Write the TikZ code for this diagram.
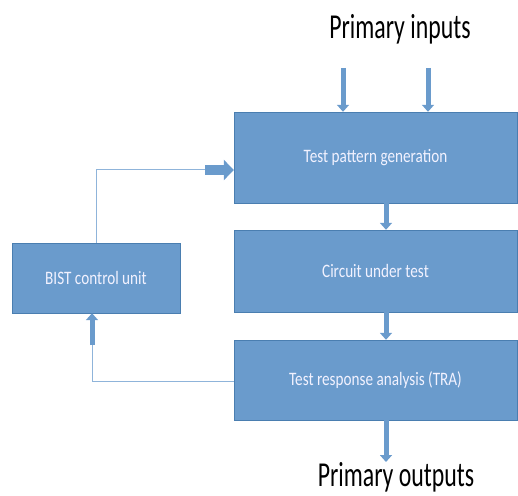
\documentclass[tikz,border=0pt]{standalone}
\usepackage{fontspec}
\setmainfont{Carlito}
\usetikzlibrary{arrows.meta}
\definecolor{boxblue}{HTML}{6A9BCC}
\definecolor{edgeblue}{HTML}{4A7EB0}
\definecolor{lineblue}{HTML}{8FB4DA}
\newcommand{\narrow}[2]{\scalebox{#1}[1]{#2}}
\tikzstyle{block} = [rectangle, minimum width=283pt, text centered, draw=edgeblue, fill=boxblue, text=white!95!blue, font=\fontsize{19}{22}\selectfont, inner sep=0pt]
\tikzstyle{label} = [font=\fontsize{35}{40}\selectfont, text=black]
\tikzstyle{fatarrow} = [draw=boxblue, line width=5pt, -{Triangle[width=12pt,length=7pt]}]
\tikzstyle{bigarrow} = [draw=boxblue, line width=10pt, -{Triangle[width=20pt,length=10pt]}]
\tikzstyle{thinline} = [draw=lineblue, line width=1pt]

\begin{document}
\begin{tikzpicture}[x=1pt, y=1pt]
    \useasboundingbox (0,0) rectangle (518,495);
    \node (tpg) [block, minimum height=91pt] at (375.5,337.5) {\narrow{0.8}{Test pattern generation}};
    \node (cut) [block, minimum height=82pt] at (375.5,224) {\narrow{0.8}{Circuit under test}};
    \node (tra) [block, minimum height=80pt] at (375.5,115) {\narrow{0.8}{Test response analysis (TRA)}};
    \node (bist) [block, minimum width=168pt, minimum height=70pt] at (96,217) {\narrow{0.8}{BIST control unit}};
    \node (inputs) [label] at (400,466) {\narrow{0.68}{Primary inputs}};
    \node (outputs) [label] at (396,18) {\narrow{0.68}{Primary outputs}};
    % inputs and outputs
    \coordinate (in1) at (343,427);
    \coordinate (in2) at (428,427);
    \coordinate (out) at (386,33);
    \draw [fatarrow] (in1) -- (in1 |- tpg.north);
    \draw [fatarrow] (in2) -- (in2 |- tpg.north);
    \draw [fatarrow] (out |- tpg.south) -- (out |- cut.north);
    \draw [fatarrow] (out |- cut.south) -- (out |- tra.north);
    \draw [fatarrow] (out |- tra.south) -- (out);
    % feedback to pattern generator
    \coordinate (up) at (96,325);
    \coordinate (turn) at (205,325);
    \draw [thinline] (bist.north) -- (up) -- (turn);
    \draw [bigarrow] (turn) -- (turn -| tpg.west);
    % response back to control unit
    \coordinate (left) at (92,114);
    \coordinate (rise) at (92,150);
    \draw [thinline] (tra.west |- left) -- (left) -- (rise);
    \draw [fatarrow] (rise) -- (rise |- bist.south);
\end{tikzpicture}
\end{document}
